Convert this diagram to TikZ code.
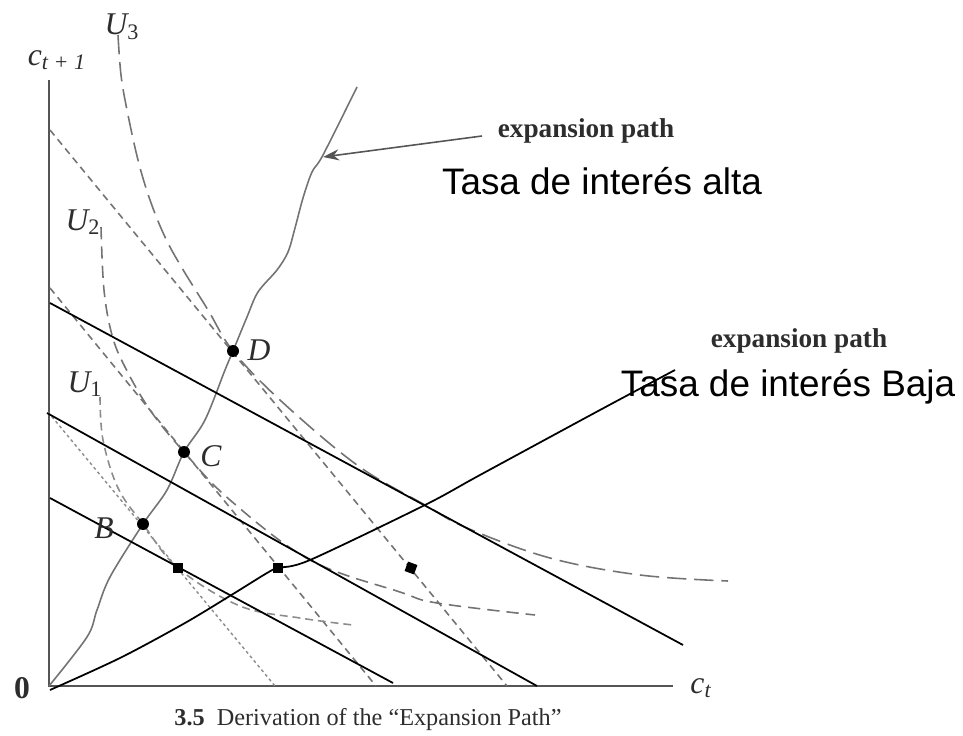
\documentclass[tikz,border=0pt]{standalone}
\usepackage{fontspec}
\setmainfont{Liberation Serif}
\newfontfamily\arial{Liberation Sans}
\usetikzlibrary{arrows.meta, positioning, calc}
\definecolor{grisesc}{RGB}{85,85,85}
\definecolor{grismed}{RGB}{115,115,115}
\definecolor{grisclaro}{RGB}{140,140,140}
\definecolor{gristexto}{RGB}{45,45,45}
\tikzset{
  eje/.style={draw=grisesc, line width=0.9pt},
  sendaAlta/.style={draw=grismed, line width=0.9pt},
  sendaBaja/.style={draw=black, line width=1pt},
  presupuesto/.style={draw=black, line width=1pt},
  curvaTres/.style={draw=grismed, line width=0.9pt, dash pattern=on 11pt off 4.5pt},
  curvaDos/.style={draw=grismed, line width=0.9pt, dash pattern=on 7pt off 4pt},
  curvaUno/.style={draw=grisclaro, line width=0.9pt, dash pattern=on 4.5pt off 2.8pt},
  rectaGris/.style={draw=grismed, line width=0.9pt, dash pattern=on 4pt off 2.8pt},
  rectaPuntos/.style={draw=grisclaro, line width=0.8pt, dash pattern=on 1.7pt off 1.7pt},
  punto/.style={circle, fill=black, inner sep=0pt, minimum size=0.24cm},
  cuadro/.style={rectangle, fill=black, inner sep=0pt, minimum size=0.2cm},
  etiqueta/.style={text=gristexto, font=\fontsize{18}{21}\selectfont\itshape, inner sep=0pt},
  leyenda/.style={text=gristexto, font=\fontsize{15.5}{18}\selectfont\bfseries, inner sep=0pt},
  tasa/.style={text=black, font=\fontsize{21}{24}\selectfont\arial, inner sep=0pt},
  flecha/.style={-{Stealth[length=0.32cm, width=0.22cm]}, draw=grisesc, line width=0.9pt},
}

\begin{document}
\begin{tikzpicture}[x=0.02cm, y=-0.02cm]
\useasboundingbox (0,0) rectangle (963,736);

% Puntos de equilibrio
\coordinate (pO) at (49,686);
\coordinate (pB) at (143,524);
\coordinate (pC) at (184,452);
\coordinate (pD) at (233,351);
\coordinate (q1) at (178,568);
\coordinate (q2) at (278,568);
\coordinate (q3) at (411,568);

% Ejes
\draw[eje] (49,80) -- (pO) -- (673,686);

% Rectas de presupuesto originales
\draw[rectaGris] (50,130) -- (507,686);
\draw[rectaGris] (50,288) -- (376,686);
\draw[rectaPuntos] (48,412) -- (275,686);

% Curvas de indiferencia
\draw[curvaTres] plot[smooth, tension=0.6] coordinates {(118,35) (121,75) (127,110) (138,160) (150,200) (165,237) (182,268) (208,310) (pD) (280,400) (357,465) (425,505) (467,528) (550,558) (640,575) (728,581)};
\draw[curvaDos] plot[smooth, tension=0.6] coordinates {(101,227) (104,290) (112,335) (125,367) (150,410) (pC) (230,500) (310,560) (400,592) (437,603) (535,615)};
\draw[curvaUno] plot[smooth, tension=0.6] coordinates {(100,397) (103,440) (118,488) (pB) (q1) (240,606) (300,618) (353,625)};

% Senda de expansion (tasa alta)
\draw[sendaAlta] plot[smooth, tension=0.55] coordinates {(pO) (87,637) (97,610) (110,577) (pB) (167,490) (pC) (205,420) (225,370) (pD) (247,317) (258,292) (277,270) (288,252) (295,228) (303,198) (312,172) (323,155) (357,87)};

% Rectas de presupuesto nuevas
\draw[presupuesto] (50,498) -- (393,683);
\draw[presupuesto] (47,413) -- (537,686);
\draw[presupuesto] (50,303) -- (683,645);

% Senda de expansion (tasa baja)
\draw[sendaBaja] plot[smooth, tension=0.5] coordinates {(50,690) (120,658) (185,623) (233,594) (267,573) (q2) (310,560) (425,505) (480,475) (600,410) (675,370)};

% Marcas
\node[punto] (D) at (pD) {};
\node[punto] (C) at (pC) {};
\node[punto] (B) at (pB) {};
\node[cuadro] (s1) at (q1) {};
\node[cuadro] (s2) at (q2) {};
\node[cuadro, rotate=-20] (s3) at (q3) {};

% Etiquetas
\node[etiqueta] (lD) at (259,350) {D};
\node[etiqueta] (lC) at (211,456) {C};
\node[etiqueta] (lB) at (104,528) {B};
\node[etiqueta] (lU3) at (122,27) {U\textsubscript{\upshape 3}};
\node[etiqueta] (lU2) at (83,222) {U\textsubscript{\upshape 2}};
\node[etiqueta] (lU1) at (85,384) {U\textsubscript{\upshape 1}};
\node[etiqueta] (ly) at (57,60) {c\textsubscript{t + 1}};
\node[etiqueta] (lx) at (701,688) {c\textsubscript{t}};
\node[text=gristexto, font=\fontsize{18}{21}\selectfont\bfseries, inner sep=0pt] (cero) at (22,688) {0};

% Leyendas
\node[leyenda] (exp1) at (586,131) {expansion path};
\node[leyenda] (exp2) at (799,341) {expansion path};
\node[tasa] (alta) at (602,181) {Tasa de interés alta};
\node[tasa] (baja) at (788,387) {Tasa de interés Baja};
\coordinate (inicio) at (482,136);
\coordinate (punta) at (323,157);
\draw[flecha] (inicio) -- (punta);

% Titulo
\node[text=gristexto, font=\fontsize{13.8}{16}\selectfont, inner sep=0pt] (titulo) at (368,720) {\textbf{3.5}\enspace Derivation of the ``Expansion Path''};

\end{tikzpicture}
\end{document}
